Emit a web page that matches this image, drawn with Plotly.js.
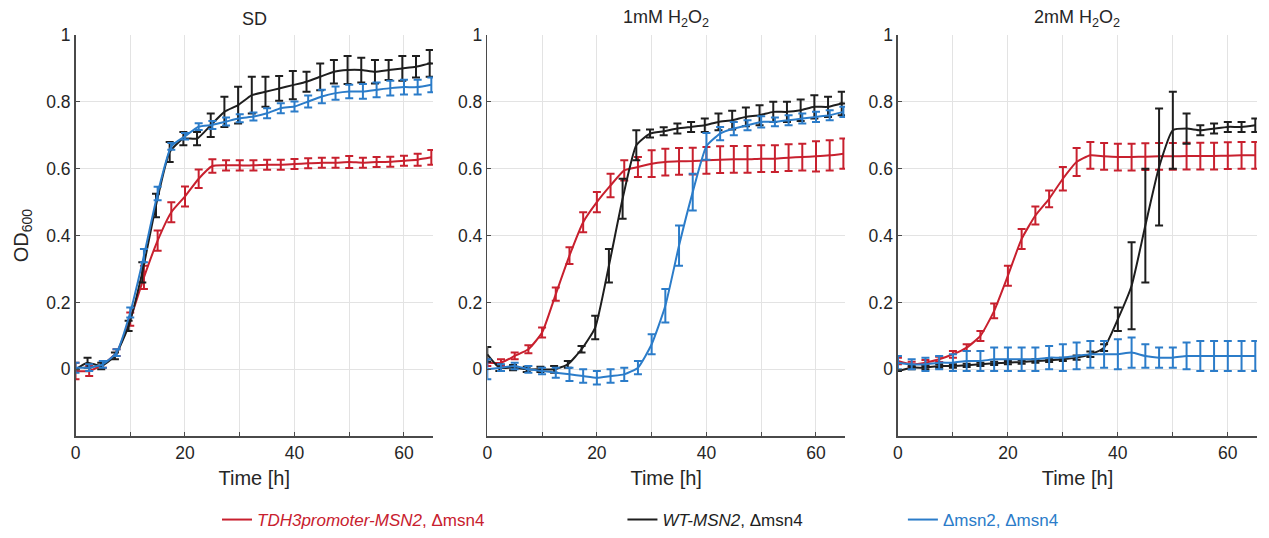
<!DOCTYPE html>
<html>
<head>
<meta charset="utf-8">
<script src="https://cdn.plot.ly/plotly-3.0.1.min.js"></script>
<style>html,body{margin:0;padding:0;background:#fff;}#chart{width:1269px;height:538px;}</style>
</head>
<body>
<div id="chart"></div>
<script>
// ---- data ----
const panelTitles = ['SD', '1mM H<sub>2</sub>O<sub>2</sub>', '2mM H<sub>2</sub>O<sub>2</sub>'];
const seriesNames = ['<i>TDH3promoter-MSN2</i>, Δmsn4', '<i>WT-MSN2</i>, Δmsn4', 'Δmsn2, Δmsn4'];
const xTickVals = [0, 10, 20, 30, 40, 50, 60];
const xTickText = ['0', '', '20', '', '40', '', '60'];
const yTickVals = [-0.2, 0, 0.2, 0.4, 0.6, 0.8, 1];
const yTickText = ['', '0', '0.2', '0.4', '0.6', '0.8', '1'];

const tA = [0,2.5,5,7.5,10,12.5,15,17.5,20,22.5,25,27.5,30,32.5,35,37.5,40,42.5,45,47.5,50,52.5,55,57.5,60,62.5,65];
const tB = [0,2.2,4.7,7.2,9.7,12.2,14.7,17.2,19.7,22.2,24.7,27.2,29.7,32.2,34.7,37.2,39.7,42.2,44.7,47.2,49.7,52.2,54.7,57.2,59.7,62.2,64.7,65];

// SD
const sdRed    = [-0.005,-0.005,0.015,0.05,0.15,0.275,0.385,0.47,0.517,0.57,0.608,0.61,0.61,0.61,0.612,0.612,0.614,0.616,0.618,0.618,0.62,0.618,0.62,0.621,0.624,0.627,0.634];
const sdRedErr = [0.025,0.015,0.01,0.01,0.02,0.035,0.03,0.03,0.03,0.028,0.02,0.015,0.015,0.015,0.015,0.015,0.015,0.015,0.015,0.015,0.018,0.015,0.015,0.015,0.015,0.018,0.022];
const sdBlk    = [0.0,0.02,0.01,0.04,0.13,0.29,0.49,0.65,0.69,0.69,0.73,0.77,0.79,0.82,0.83,0.84,0.85,0.86,0.875,0.89,0.895,0.895,0.89,0.895,0.9,0.905,0.915,0.915];
const sdBlkErr = [null,0.015,0.01,0.01,0.015,0.03,0.035,0.03,0.02,0.02,0.035,0.045,0.055,0.055,0.045,0.037,0.042,0.03,0.04,0.035,0.042,0.037,0.035,0.03,0.037,0.032,0.04,null];
const sdBlu    = [0.005,0.005,0.015,0.05,0.17,0.34,0.526,0.667,0.697,0.726,0.731,0.741,0.751,0.756,0.766,0.781,0.786,0.801,0.816,0.826,0.831,0.831,0.836,0.841,0.844,0.844,0.851];
const sdBluErr = [0.015,0.01,0.01,0.01,0.015,0.02,0.02,0.01,0.01,0.01,0.012,0.012,0.012,0.012,0.015,0.015,0.015,0.018,0.02,0.02,0.02,0.022,0.022,0.022,0.022,0.022,0.022];

// 1 mM H2O2
const m1Red    = [0.02,0.02,0.04,0.06,0.11,0.225,0.34,0.44,0.50,0.55,0.595,0.605,0.615,0.62,0.622,0.623,0.625,0.627,0.628,0.628,0.63,0.63,0.633,0.635,0.637,0.64,0.645];
const m1RedErr = [0.01,0.01,0.01,0.012,0.015,0.02,0.025,0.03,0.03,0.035,0.03,0.03,0.04,0.04,0.04,0.04,0.04,0.04,0.04,0.04,0.04,0.04,0.04,0.04,0.045,0.045,0.045];
const m1Blk    = [0.045,0.005,0.005,0.0,0.0,0.0,0.015,0.06,0.125,0.31,0.51,0.67,0.705,0.712,0.72,0.725,0.73,0.74,0.745,0.755,0.76,0.77,0.77,0.775,0.785,0.785,0.795,0.795];
const m1BlkErr = [0.022,0.01,0.008,0.008,0.008,0.01,0.01,0.01,0.035,0.05,0.06,0.045,0.012,0.012,0.015,0.015,0.02,0.025,0.028,0.028,0.03,0.03,0.03,0.032,0.035,0.03,0.035,null];
const m1Blu    = [0.0,0.005,0.01,0.0,-0.005,-0.01,-0.015,-0.02,-0.025,-0.02,-0.015,0.005,0.075,0.19,0.37,0.53,0.667,0.705,0.72,0.73,0.74,0.74,0.745,0.75,0.755,0.76,0.77];
const m1BluErr = [0.03,0.01,0.01,0.01,0.01,0.015,0.02,0.02,0.02,0.02,0.02,0.02,0.03,0.05,0.06,0.055,0.04,0.02,0.02,0.015,0.017,0.013,0.015,0.015,0.015,0.015,0.015];

// 2 mM H2O2
const m2Red    = [0.025,0.015,0.02,0.03,0.045,0.065,0.10,0.175,0.28,0.39,0.46,0.51,0.57,0.62,0.64,0.637,0.635,0.635,0.636,0.637,0.637,0.638,0.638,0.638,0.639,0.64,0.64];
const m2RedErr = [0.01,0.008,0.008,0.008,0.01,0.01,0.015,0.022,0.03,0.03,0.027,0.025,0.035,0.042,0.04,0.04,0.04,0.04,0.04,0.04,0.04,0.04,0.04,0.04,0.04,0.04,0.04];
const m2Blk    = [-0.005,0.005,0.005,0.01,0.01,0.012,0.015,0.018,0.02,0.022,0.025,0.027,0.03,0.035,0.045,0.065,0.15,0.25,0.43,0.605,0.715,0.72,0.715,0.72,0.725,0.725,0.73];
const m2BlkErr = [null,0.005,0.005,0.005,0.005,0.005,0.005,0.005,0.005,0.005,0.005,0.005,0.005,0.006,0.008,0.01,0.035,0.13,0.17,0.175,0.115,0.045,0.015,0.015,0.015,0.015,0.02];
const m2Blu    = [0.02,0.015,0.015,0.02,0.02,0.025,0.025,0.03,0.03,0.03,0.03,0.035,0.035,0.04,0.045,0.045,0.045,0.05,0.04,0.035,0.035,0.04,0.04,0.04,0.04,0.04,0.04];
const m2BluErr = [0.02,0.015,0.02,0.02,0.025,0.03,0.03,0.035,0.035,0.035,0.035,0.035,0.04,0.04,0.04,0.04,0.045,0.045,0.035,0.03,0.03,0.04,0.045,0.045,0.045,0.045,0.045];

// ---- styling ----
const colors = ['#c8202e', '#1e1e1e', '#2b7cc9'];
const FONT = 'Liberation Sans, Arial, Helvetica, sans-serif';
const TXT = '#262626';

const panels = [
  {x: [tA, tB, tA], y: [sdRed, sdBlk, sdBlu], e: [sdRedErr, sdBlkErr, sdBluErr]},
  {x: [tA, tB, tA], y: [m1Red, m1Blk, m1Blu], e: [m1RedErr, m1BlkErr, m1BluErr]},
  {x: [tA, tA, tA], y: [m2Red, m2Blk, m2Blu], e: [m2RedErr, m2BlkErr, m2BluErr]}
];
const legendIds = ['legend', 'legend2', 'legend3'];

const traces = [];
panels.forEach((p, pi) => {
  for (let s = 0; s < 3; s++) {
    traces.push({
      type: 'scatter', mode: 'lines',
      x: p.x[s], y: p.y[s],
      xaxis: pi === 0 ? 'x' : 'x' + (pi + 1),
      yaxis: pi === 0 ? 'y' : 'y' + (pi + 1),
      name: seriesNames[s],
      legend: legendIds[s],
      showlegend: pi === 0,
      line: {color: colors[s], width: 2, shape: 'spline', smoothing: 0.5},
      error_y: {type: 'data', array: p.e[s], visible: true, color: colors[s], thickness: 2, width: 4},
      hoverinfo: 'x+y'
    });
  }
});

const xDomains = [[0.0595, 0.3412], [0.3840, 0.6659], [0.7076, 0.9905]];
const yDomain = [0.1877, 0.9349];

const layout = {
  width: 1269, height: 538,
  margin: {l: 0, r: 0, t: 0, b: 0},
  paper_bgcolor: '#ffffff', plot_bgcolor: '#ffffff',
  font: {family: FONT, color: TXT, size: 17},
  annotations: [],
};

function axisX(i) {
  return {
    domain: xDomains[i], anchor: i === 0 ? 'y' : 'y' + (i + 1),
    range: [0, 65.3], tickmode: 'array', tickvals: xTickVals, ticktext: xTickText,
    showgrid: true, gridcolor: '#e3e3e3', gridwidth: 1, zeroline: false,
    showline: true, linecolor: '#4a4a4a', linewidth: 1.5,
    ticks: 'inside', ticklen: 4, tickcolor: '#4a4a4a', tickwidth: 1,
    tickfont: {family: FONT, size: 17.5, color: TXT},
    title: {text: 'Time [h]', font: {family: FONT, size: 20, color: TXT}, standoff: 9}
  };
}
function axisY(i) {
  return {
    domain: yDomain, anchor: i === 0 ? 'x' : 'x' + (i + 1),
    range: [-0.2, 1], tickmode: 'array', tickvals: yTickVals, ticktext: yTickText,
    showgrid: true, gridcolor: '#e3e3e3', gridwidth: 1, zeroline: false,
    showline: true, linecolor: '#4a4a4a', linewidth: 1.5,
    ticks: 'inside', ticklen: 4, tickcolor: '#4a4a4a', tickwidth: 1,
    tickfont: {family: FONT, size: 17.5, color: TXT},
    title: i === 0 ? {text: 'OD<sub>600</sub>', font: {family: FONT, size: 20, color: TXT}, standoff: 12} : {text: ''}
  };
}
for (let i = 0; i < 3; i++) {
  const sx = i === 0 ? '' : String(i + 1);
  layout['xaxis' + sx] = axisX(i);
  layout['yaxis' + sx] = axisY(i);
  layout.annotations.push({
    xref: 'paper', yref: 'paper',
    x: (xDomains[i][0] + xDomains[i][1]) / 2, y: 0.965,
    xanchor: 'center', yanchor: 'middle', showarrow: false,
    text: panelTitles[i], font: {family: FONT, size: 18, color: TXT}
  });
}

const legendX = [0.171, 0.4905, 0.7115];
legendIds.forEach((id, k) => {
  layout[id] = {
    orientation: 'h', x: legendX[k], y: 0.032, xanchor: 'left', yanchor: 'middle',
    bgcolor: 'rgba(0,0,0,0)', borderwidth: 0,
    font: {family: FONT, size: 17, color: colors[k]}
  };
});

Plotly.newPlot('chart', traces, layout, {displayModeBar: false, staticPlot: true});
</script>
</body>
</html>
